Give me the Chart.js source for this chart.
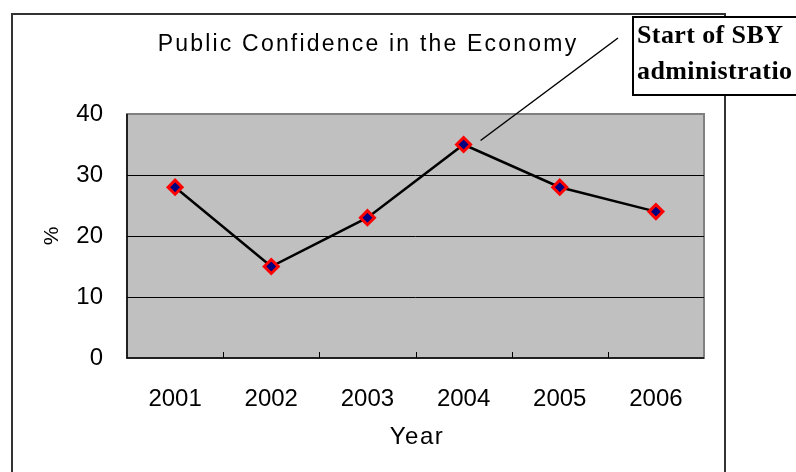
<!DOCTYPE html>
<html>
<head>
<meta charset="utf-8">
<script src="https://cdn.jsdelivr.net/npm/chart.js@4/dist/chart.umd.min.js"></script>
<style>
  html, body { margin: 0; padding: 0; background: #ffffff; }
  #wrap { position: relative; width: 796px; height: 472px; }
</style>
</head>
<body>
<div id="wrap"><canvas id="c" width="796" height="472"></canvas></div>
<script>
// Survey years and share of respondents confident in the economy (%)
const years = ['2001', '2002', '2003', '2004', '2005', '2006'];
const confidence = [28, 15, 23, 35, 28, 24];
const yTicks = [0, 10, 20, 30, 40];

const chartTitle = 'Public Confidence in the Economy';
const xTitle = 'Year';
const yTitle = '%';
const noteLines = ['Start of SBY', 'administratio'];
const noteYear = '2004';

const sansFont = '"Liberation Sans", Arial, sans-serif';
const serifFont = '"Liberation Serif", "Times New Roman", serif';

// Frame, grey plot background, axis lines, inner tick marks and callout
const decor = {
  id: 'decor',
  beforeDraw(chart) {
    const { ctx, chartArea: a } = chart;
    ctx.save();
    ctx.fillStyle = '#ffffff';
    ctx.fillRect(0, 0, chart.width, chart.height);
    // outer chart frame
    ctx.strokeStyle = '#333333';
    ctx.lineWidth = 2;
    ctx.beginPath();
    ctx.moveTo(12, chart.height);
    ctx.lineTo(12, 14);
    ctx.lineTo(725, 14);
    ctx.lineTo(725, chart.height);
    ctx.stroke();
    // plot area
    ctx.fillStyle = '#c0c0c0';
    ctx.fillRect(a.left, a.top, a.right - a.left, a.bottom - a.top);
    ctx.strokeStyle = '#808080';
    ctx.lineWidth = 2;
    ctx.strokeRect(a.left, a.top, a.right - a.left, a.bottom - a.top);
    ctx.restore();
  },
  afterDatasetsDraw(chart) {
    const { ctx, chartArea: a, scales } = chart;
    const xs = scales.x;
    ctx.save();
    // axis lines
    ctx.strokeStyle = '#000000';
    ctx.lineWidth = 1.5;
    ctx.beginPath();
    ctx.moveTo(a.left, a.top);
    ctx.lineTo(a.left, a.bottom);
    ctx.lineTo(a.right, a.bottom);
    ctx.stroke();
    // category boundary tick marks pointing into the plot
    ctx.lineWidth = 1;
    ctx.beginPath();
    for (let i = 1; i < years.length; i++) {
      const px = Math.round(xs.getPixelForValue(i - 0.5)) + 0.5;
      ctx.moveTo(px, a.bottom);
      ctx.lineTo(px, a.bottom - 6);
    }
    ctx.stroke();

    // callout pointer towards the 2004 point
    const idx = years.indexOf(noteYear);
    const meta = chart.getDatasetMeta(0);
    const pt = meta.data[idx];
    ctx.strokeStyle = '#000000';
    ctx.lineWidth = 1.5;
    ctx.beginPath();
    ctx.moveTo(pt.x + 17, pt.y - 4);
    ctx.lineTo(618, 38);
    ctx.stroke();

    // callout box
    ctx.fillStyle = '#ffffff';
    ctx.fillRect(632, 17, 200, 78);
    ctx.strokeStyle = '#000000';
    ctx.lineWidth = 2;
    ctx.strokeRect(633, 17, 200, 78);
    ctx.fillStyle = '#000000';
    ctx.font = 'bold 26px ' + serifFont;
    ctx.textAlign = 'left';
    ctx.textBaseline = 'alphabetic';
    ctx.letterSpacing = '0.4px';
    ctx.fillText(noteLines[0], 637, 43);
    ctx.fillText(noteLines[1], 637, 79);

    // titles
    ctx.textAlign = 'center';
    ctx.textBaseline = 'middle';
    ctx.font = '23px ' + sansFont;
    ctx.letterSpacing = '2.2px';
    ctx.fillText(chartTitle, 368, 45);
    ctx.font = '24px ' + sansFont;
    ctx.letterSpacing = '1.5px';
    ctx.fillText(xTitle, 417, 437);
    ctx.letterSpacing = '0px';
    ctx.save();
    ctx.translate(52, (a.top + a.bottom) / 2);
    ctx.rotate(-Math.PI / 2);
    ctx.font = '21px ' + sansFont;
    ctx.fillText(yTitle, 0, 0);
    ctx.restore();
    ctx.restore();
  }
};

new Chart(document.getElementById('c'), {
  type: 'line',
  data: {
    labels: years,
    datasets: [{
      data: confidence,
      borderColor: '#000000',
      borderWidth: 2.5,
      tension: 0,
      pointStyle: 'rectRot',
      pointRadius: 7,
      pointBorderWidth: 3,
      pointBackgroundColor: '#000080',
      pointBorderColor: '#ff0000',
      clip: false
    }]
  },
  options: {
    responsive: false,
    animation: false,
    events: [],
    layout: { padding: { left: 0, top: 114, right: 92, bottom: 0 } },
    plugins: { legend: { display: false }, tooltip: { enabled: false }, title: { display: false } },
    scales: {
      x: {
        type: 'category',
        offset: true,
        grid: { display: false, drawTicks: false },
        border: { display: false },
        ticks: {
          color: '#000000',
          font: { family: sansFont, size: 24 },
          padding: 27,
          maxRotation: 0
        },
        afterFit(scale) { scale.height = 114; }
      },
      y: {
        min: 0,
        max: 40,
        afterBuildTicks(scale) { scale.ticks = yTicks.map(v => ({ value: v })); },
        grid: {
          drawTicks: false,
          color: (c) => (c.tick.value === 0 || c.tick.value === 40) ? 'rgba(0,0,0,0)' : '#000000',
          lineWidth: 1
        },
        border: { display: false },
        ticks: {
          color: '#000000',
          font: { family: sansFont, size: 24 },
          padding: 24
        },
        afterFit(scale) { scale.width = 127; }
      }
    }
  },
  plugins: [decor]
});
</script>
</body>
</html>
